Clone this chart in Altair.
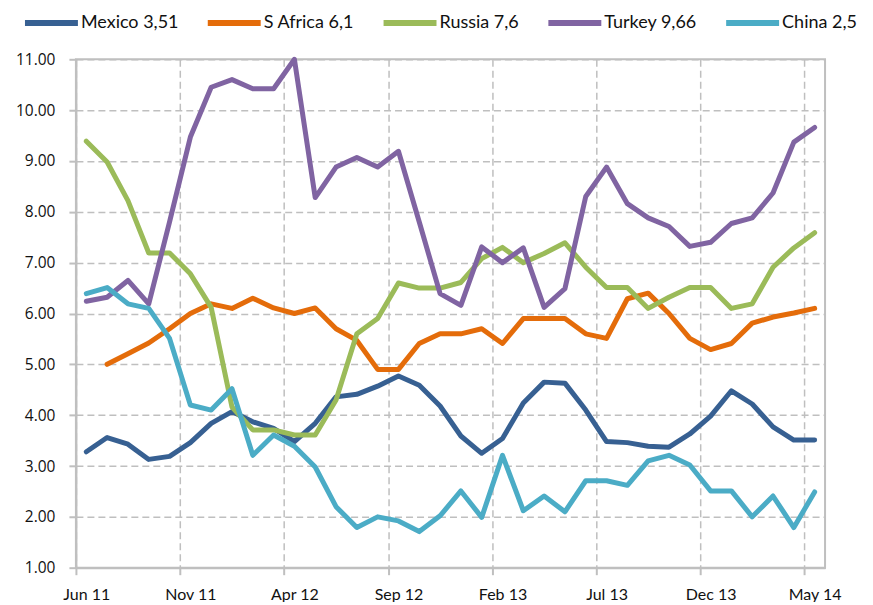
import altair as alt
import pandas as pd

months = ["Jun 11", "Jul 11", "Aug 11", "Sep 11", "Oct 11", "Nov 11", "Dec 11",
          "Jan 12", "Feb 12", "Mar 12", "Apr 12", "May 12", "Jun 12", "Jul 12",
          "Aug 12", "Sep 12", "Oct 12", "Nov 12", "Dec 12", "Jan 13", "Feb 13",
          "Mar 13", "Apr 13", "May 13", "Jun 13", "Jul 13", "Aug 13", "Sep 13",
          "Oct 13", "Nov 13", "Dec 13", "Jan 14", "Feb 14", "Mar 14", "Apr 14",
          "May 14"]

mexico = [3.28, 3.56, 3.43, 3.13, 3.19, 3.46, 3.84, 4.07, 3.87, 3.74, 3.48, 3.84,
          4.36, 4.41, 4.57, 4.77, 4.59, 4.18, 3.59, 3.25, 3.54, 4.24, 4.65, 4.63,
          4.10, 3.48, 3.46, 3.39, 3.37, 3.63, 3.98, 4.48, 4.22, 3.77, 3.51, 3.51]
safrica = [None, 5.00, 5.21, 5.42, 5.70, 6.00, 6.19, 6.10, 6.30, 6.11, 6.00, 6.11,
           5.70, 5.47, 4.90, 4.90, 5.41, 5.60, 5.60, 5.70, 5.41, 5.90, 5.90, 5.90,
           5.60, 5.51, 6.29, 6.40, 6.00, 5.51, 5.29, 5.41, 5.81, 5.93, 6.01, 6.10]
russia = [9.39, 8.98, 8.22, 7.19, 7.19, 6.78, 6.12, 4.16, 3.71, 3.71, 3.61, 3.61,
          4.30, 5.60, 5.90, 6.60, 6.50, 6.50, 6.61, 7.08, 7.30, 7.00, 7.18, 7.39,
          6.91, 6.51, 6.51, 6.10, 6.32, 6.51, 6.51, 6.10, 6.19, 6.91, 7.29, 7.59]
turkey = [6.24, 6.32, 6.65, 6.19, 7.80, 9.47, 10.45, 10.60, 10.42, 10.42, 11.00, 8.28,
          8.88, 9.07, 8.88, 9.19, 7.80, 6.39, 6.16, 7.31, 7.00, 7.29, 6.12, 6.49,
          8.30, 8.88, 8.16, 7.88, 7.71, 7.32, 7.40, 7.77, 7.88, 8.37, 9.37, 9.66]
china = [6.39, 6.51, 6.19, 6.10, 5.51, 4.20, 4.10, 4.52, 3.21, 3.61, 3.39, 2.98,
         2.20, 1.79, 2.00, 1.92, 1.71, 2.02, 2.51, 1.99, 3.21, 2.12, 2.41, 2.10,
         2.71, 2.71, 2.62, 3.10, 3.21, 3.02, 2.51, 2.51, 2.00, 2.41, 1.79, 2.49]

series_names = ["Mexico 3,51", "S Africa 6,1", "Russia 7,6", "Turkey 9,66", "China 2,5"]
series_values = [mexico, safrica, russia, turkey, china]
colors = ["#376092", "#E46C0A", "#9BBB59", "#8064A2", "#4BACC6"]

rows = []
for name, vals in zip(series_names, series_values):
    for i, (m, v) in enumerate(zip(months, vals)):
        if v is not None:
            rows.append({"i": i, "month": m, "series": name, "value": v})
df = pd.DataFrame(rows)

grid_vals = [-0.5 + 5 * k for k in range(8)]
tick_labels = months[0::5]
label_expr = "[" + ",".join("'%s'" % t for t in tick_labels) + "][round((datum.value + 0.5) / 5)]"

GRID = "#BFBFBF"

chart = alt.Chart(df).mark_line(
    strokeWidth=5, strokeCap="round", strokeJoin="round"
).encode(
    x=alt.X(
        "i:Q",
        scale=alt.Scale(domain=[-0.5, 35.5], nice=False, zero=False),
        axis=alt.Axis(
            values=grid_vals, labelExpr=label_expr, labelOffset=10.4,
            labelFlush=False, labelOverlap=False, labelBound=False,
            grid=True, gridDash=[7, 4], gridColor=GRID, gridWidth=1.5,
            tickSize=7, tickColor=GRID, tickWidth=2,
            domainColor=GRID, domainWidth=2,
            labelPadding=12, labelFontSize=16, labelFont="Lato",
            labelColor="#111111", title=None,
        ),
    ),
    y=alt.Y(
        "value:Q",
        scale=alt.Scale(domain=[1, 11], nice=False, zero=False),
        axis=alt.Axis(
            values=list(range(1, 12)), format=".2f",
            grid=True, gridDash=[7, 4], gridColor=GRID, gridWidth=1.5,
            tickSize=7, tickColor=GRID, tickWidth=2,
            domainColor=GRID, domainWidth=2,
            labelPadding=14, labelFontSize=15.5, labelFont="Open Sans",
            labelColor="#111111", title=None,
        ),
    ),
    color=alt.Color(
        "series:N",
        scale=alt.Scale(domain=series_names, range=colors),
        legend=alt.Legend(
            orient="none", legendX=-54, legendY=-66, direction="horizontal",
            title=None, symbolType="stroke", symbolStrokeWidth=6,
            symbolSize=2809, labelFont="Lato", labelFontSize=18,
            labelColor="#111111", labelOffset=0, columnPadding=17, padding=0,
        ),
    ),
).properties(
    width=750, height=509,
    padding={"left": 68, "top": 51, "right": 40, "bottom": 34},
    autosize=alt.AutoSizeParams(type="none"),
).configure_view(stroke=GRID, strokeWidth=2)

chart.save("out.html", embed_options={"renderer": "svg", "actions": False})
